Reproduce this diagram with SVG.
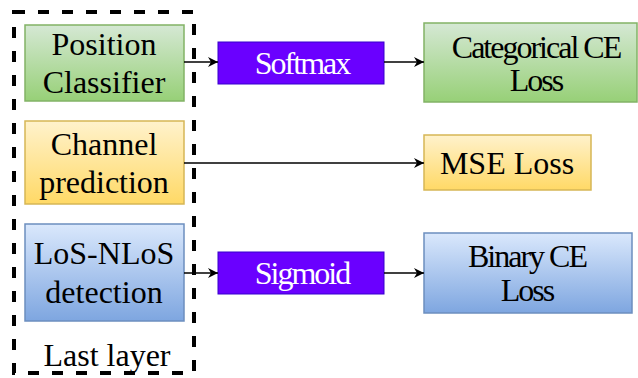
<svg xmlns="http://www.w3.org/2000/svg" width="638" height="378" viewBox="0 0 638 378">
<defs>
<linearGradient id="gG" x1="0" y1="0" x2="0" y2="1"><stop offset="0" stop-color="#d5e8d4"/><stop offset="1" stop-color="#97d077"/></linearGradient>
<linearGradient id="gY" x1="0" y1="0" x2="0" y2="1"><stop offset="0" stop-color="#fff2cc"/><stop offset="1" stop-color="#ffd966"/></linearGradient>
<linearGradient id="gB" x1="0" y1="0" x2="0" y2="1"><stop offset="0" stop-color="#dae8fc"/><stop offset="1" stop-color="#7ea6e0"/></linearGradient>
<marker id="arr" viewBox="0 0 10 10" refX="10" refY="5" markerWidth="10" markerHeight="10" markerUnits="userSpaceOnUse" orient="auto">
<path d="M0,0 L10,5 L0,10 L3,5 Z" fill="#000"/>
</marker>
<style>
text{font-size:32px;fill:#000;text-anchor:middle}
.w{fill:#fff}
.c{letter-spacing:-2px}
.g{fill:url(#gG);stroke:#82b366;stroke-width:1.5}
.y{fill:url(#gY);stroke:#d6b656;stroke-width:1.5}
.b{fill:url(#gB);stroke:#6c8ebf;stroke-width:1.5}
.p{fill:#6a00ff;stroke:#3700cc;stroke-width:1}
.e{fill:none;stroke:#000;stroke-width:1.5;marker-end:url(#arr)}
</style>
</defs>
<rect width="638" height="378" fill="#fff"/>
<g font-family="'Liberation Serif', 'DejaVu Serif', serif">
<g id="last-layer">
<rect x="14" y="12" width="180" height="361" fill="none" stroke="#000" stroke-width="4" stroke-dasharray="11 13"/>
<text x="107" y="366">Last layer</text>
</g>
<g id="position-classifier">
<rect class="g" x="25" y="25" width="159" height="76"/>
<text x="104" y="55">Position</text>
<text x="104" y="93">Classifier</text>
</g>
<g id="channel-prediction">
<rect class="y" x="25" y="121" width="159" height="83"/>
<text x="104" y="155">Channel</text>
<text x="104" y="193">prediction</text>
</g>
<g id="los-nlos">
<rect class="b" x="25" y="224" width="159" height="97"/>
<text x="104" y="264">LoS-NLoS</text>
<text x="104" y="303">detection</text>
</g>
<g id="softmax">
<rect class="p" x="218" y="42" width="166" height="42"/>
<text class="w c" x="302" y="74">Softmax</text>
</g>
<g id="sigmoid">
<rect class="p" x="218" y="252" width="166" height="42"/>
<text class="w c" x="302" y="284">Sigmoid</text>
</g>
<g id="categorical-ce">
<rect class="g" x="424" y="23" width="213" height="79"/>
<text class="c" x="536" y="58">Categorical CE</text>
<text class="c" x="536" y="91">Loss</text>
</g>
<g id="mse-loss">
<rect class="y" x="424" y="135" width="167" height="55"/>
<text x="507" y="174">MSE Loss</text>
</g>
<g id="binary-ce">
<rect class="b" x="424" y="233" width="208" height="80"/>
<text class="c" x="527" y="267">Binary CE</text>
<text class="c" x="527" y="301">Loss</text>
</g>
</g>
<g id="connectors">
<path class="e" d="M184,62 H218"/>
<path class="e" d="M384,62 H424"/>
<path class="e" d="M184,163 H424"/>
<path class="e" d="M184,273 H218"/>
<path class="e" d="M384,273 H424"/>
</g>
</svg>
